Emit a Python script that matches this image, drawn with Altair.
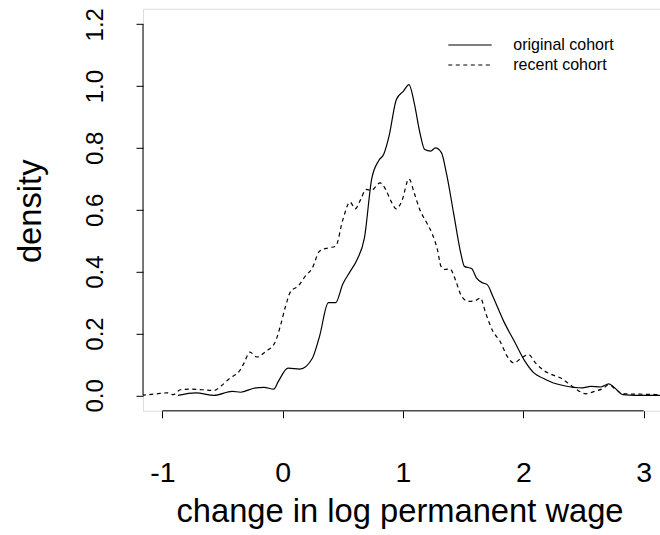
import altair as alt
import pandas as pd

# ---- data ----
orig_x = [-0.87, -0.72, -0.57, -0.42, -0.35, -0.24, -0.155, -0.074, -0.036, 0.045,
          0.143, 0.247, 0.306, 0.38, 0.44, 0.50, 0.56, 0.62, 0.68, 0.74,
          0.80, 0.84, 0.885, 0.945, 1.004, 1.05, 1.093, 1.14, 1.18, 1.23,
          1.27, 1.32, 1.36, 1.42, 1.48, 1.51, 1.57, 1.61, 1.66, 1.70,
          1.747, 1.836, 1.925, 2.014, 2.09, 2.16, 2.25, 2.34, 2.49, 2.56,
          2.64, 2.71, 2.76, 2.83, 2.94, 3.2]
orig_y = [0.0, 0.008, 0.0, 0.013, 0.01, 0.023, 0.026, 0.02, 0.045, 0.088,
          0.085, 0.12, 0.19, 0.30, 0.30, 0.36, 0.40, 0.44, 0.51, 0.70,
          0.76, 0.78, 0.84, 0.957, 0.984, 1.005, 0.946, 0.85, 0.795, 0.79,
          0.80, 0.784, 0.72, 0.59, 0.46, 0.417, 0.41, 0.38, 0.364, 0.358,
          0.32, 0.24, 0.175, 0.11, 0.072, 0.056, 0.04, 0.031, 0.024, 0.029,
          0.027, 0.037, 0.024, 0.002, 0.0, 0.0]

rec_x = [-1.17, -1.046, -0.957, -0.91, -0.85, -0.75, -0.66, -0.57, -0.51, -0.437,
         -0.36, -0.32, -0.273, -0.214, -0.14, -0.065, -0.02, 0.024, 0.068, 0.128,
         0.187, 0.247, 0.306, 0.38, 0.44, 0.50, 0.56, 0.603, 0.648, 0.692,
         0.737, 0.81, 0.856, 0.90, 0.945, 0.99, 1.05, 1.093, 1.14, 1.197,
         1.24, 1.286, 1.316, 1.346, 1.39, 1.435, 1.48, 1.54, 1.60, 1.643,
         1.687, 1.747, 1.806, 1.866, 1.92, 1.985, 2.044, 2.10, 2.16, 2.237,
         2.31, 2.37, 2.445, 2.52, 2.594, 2.67, 2.71, 2.77, 2.83, 2.935, 3.2]
rec_y = [0.0, 0.005, 0.008, 0.002, 0.018, 0.02, 0.018, 0.016, 0.031, 0.056,
         0.078, 0.105, 0.14, 0.124, 0.142, 0.17, 0.223, 0.288, 0.337, 0.353,
         0.385, 0.412, 0.466, 0.477, 0.482, 0.568, 0.625, 0.603, 0.633, 0.666,
         0.663, 0.687, 0.666, 0.628, 0.603, 0.628, 0.70, 0.655, 0.60, 0.558,
         0.525, 0.471, 0.417, 0.407, 0.409, 0.374, 0.326, 0.304, 0.306, 0.315,
         0.266, 0.207, 0.175, 0.126, 0.105, 0.121, 0.132, 0.105, 0.083, 0.067,
         0.056, 0.04, 0.018, 0.005, 0.013, 0.024, 0.035, 0.018, 0.005, 0.004, 0.002]

x_ticks = [-1, 0, 1, 2, 3]
y_ticks = [0.0, 0.2, 0.4, 0.6, 0.8, 1.0, 1.2]
legend_labels = ["original cohort", "recent cohort"]
x_title = "change in log permanent wage"
y_title = "density"

assert len(orig_x) == len(orig_y) and len(rec_x) == len(rec_y)

df_orig = pd.DataFrame({"x": orig_x, "y": orig_y})
df_rec = pd.DataFrame({"x": rec_x, "y": rec_y})

W, H = 517, 402
xscale = alt.Scale(domain=[-1.1604, 3.1355], nice=False, zero=False)
yscale = alt.Scale(domain=[-0.05, 1.25], nice=False, zero=False)
FONT = "Liberation Sans"

xaxis = alt.Axis(values=x_ticks, domain=False, grid=False, tickSize=7, tickColor="black",
                 tickWidth=1, labelFontSize=28.5, labelColor="black", labelBaseline="alphabetic",
                 labelPadding=64, labelFlush=False, labelOverlap=False,
                 labelExpr="'' + datum.value",
                 title=x_title, titleFontSize=32.7, titleFontWeight="normal", titleColor="black",
                 titleBaseline="alphabetic", titleX=256.5, titleY=111, titleAlign="center")
yaxis = alt.Axis(values=y_ticks, domain=False, grid=False, tickSize=7, tickColor="black",
                 tickWidth=1, labelFontSize=24, labelColor="black", labelAngle=270,
                 labelAlign="center", labelBaseline="alphabetic", labelPadding=34,
                 labelFlush=False, labelOverlap=False, format=".1f",
                 title=y_title, titleFontSize=32.7, titleFontWeight="normal", titleColor="black",
                 titleAngle=270, titleAlign="center", titleBaseline="alphabetic",
                 titleX=-103, titleY=202)

line_orig = alt.Chart(df_orig).mark_line(color="black", strokeWidth=1.2, interpolate="monotone",
                                         clip=True).encode(
    x=alt.X("x:Q", scale=xscale, axis=xaxis),
    y=alt.Y("y:Q", scale=yscale, axis=yaxis),
)
line_rec = alt.Chart(df_rec).mark_line(color="black", strokeWidth=1.2, strokeDash=[4, 3.5],
                                       interpolate="monotone", clip=True).encode(
    x=alt.X("x:Q", scale=xscale),
    y=alt.Y("y:Q", scale=yscale),
)

# axis lines (R style: spanning first to last tick)
xline = alt.Chart(pd.DataFrame({"a": [x_ticks[0]], "b": [x_ticks[-1]]})).mark_rule(
    color="black", strokeWidth=1).encode(
    x=alt.X("a:Q", scale=xscale), x2="b:Q", y=alt.value(H))
yline = alt.Chart(pd.DataFrame({"a": [y_ticks[0]], "b": [y_ticks[-1]]})).mark_rule(
    color="black", strokeWidth=1).encode(
    y=alt.Y("a:Q", scale=yscale), y2="b:Q", x=alt.value(0))

# legend
leg_solid = alt.Chart(pd.DataFrame({"k": [0]})).mark_rule(color="black", strokeWidth=1.2).encode(
    x=alt.value(305.3), x2=alt.value(348.7), y=alt.value(36.2))
leg_dash = alt.Chart(pd.DataFrame({"k": [0]})).mark_rule(color="black", strokeWidth=1.2,
                                                       strokeDash=[4, 3.5]).encode(
    x=alt.value(305.3), x2=alt.value(348.7), y=alt.value(56.2))
leg_t1 = alt.Chart(pd.DataFrame({"t": [legend_labels[0]]})).mark_text(
    align="left", baseline="middle", fontSize=16, font=FONT, color="black").encode(
    text="t:N", x=alt.value(370.3), y=alt.value(36.2))
leg_t2 = alt.Chart(pd.DataFrame({"t": [legend_labels[1]]})).mark_text(
    align="left", baseline="middle", fontSize=16, font=FONT, color="black").encode(
    text="t:N", x=alt.value(370.3), y=alt.value(56.2))

chart = alt.layer(line_orig, line_rec, xline, yline, leg_solid, leg_dash, leg_t1, leg_t2).properties(
    width=W, height=H,
    autosize=alt.AutoSizeParams(type="none"),
    padding={"left": 143, "top": 8.8, "right": 0, "bottom": 121},
    background="white",
).configure_view(stroke=None).configure(font=FONT)

chart.save("out.html", embed_options={"renderer": "svg", "actions": False})
